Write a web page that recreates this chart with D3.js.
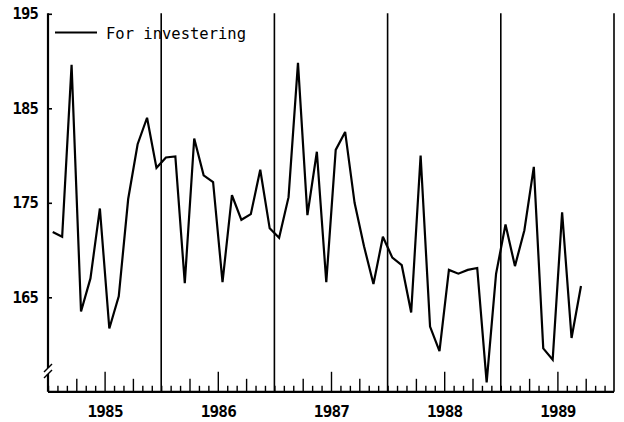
<!DOCTYPE html>
<html>
<head>
<meta charset="utf-8">
<script src="https://cdn.jsdelivr.net/npm/d3@7"></script>
<style>
  html, body { margin: 0; padding: 0; background: #fff; }
  svg { display: block; }
  text { font-family: "DejaVu Sans Mono", "Liberation Mono", monospace; fill: #000; }
</style>
</head>
<body>
<svg id="chart" width="624" height="422"></svg>
<script>
// ---- data (monthly values, Jan..Dec) ----
const seriesName = "For investering";
const years = [1985, 1986, 1987, 1988, 1989];
const v1985 = [171.9, 171.4, 189.6, 163.5, 167.0, 174.4, 161.7, 165.1, 175.4, 181.2, 184.0, 178.7];
const v1986 = [179.8, 179.9, 166.5, 181.8, 177.9, 177.2, 166.6, 175.8, 173.2, 173.8, 178.5, 172.3];
const v1987 = [171.3, 175.6, 189.8, 173.7, 180.4, 166.6, 180.6, 182.5, 175.0, 170.4, 166.4, 171.4];
const v1988 = [169.2, 168.4, 163.4, 180.0, 161.9, 159.3, 167.9, 167.5, 167.9, 168.1, 156.0, 167.5];
const v1989 = [172.7, 168.3, 172.1, 178.8, 159.6, 158.4, 174.0, 160.7, 166.2];
const yTicks = [165, 175, 185, 195];
const yearLabels = ["1985", "1986", "1987", "1988", "1989"];
const yDomain = [155, 195];
const xDomain = [1985, 1990];

const yearly = [v1985, v1986, v1987, v1988, v1989];
const data = [];
yearly.forEach((arr, yi) => arr.forEach((v, m) => data.push({ t: years[yi] + (m + 0.5) / 12, v })));

const svg = d3.select("#chart");
svg.append("rect").attr("width", 624).attr("height", 422).attr("fill", "#fff");

const x = d3.scaleLinear().domain(xDomain).range([48, 614]);
const y = d3.scaleLinear().domain(yDomain).range([391.8, 13.8]);

// year separator lines
const yearBounds = d3.range(xDomain[0] + 1, xDomain[1] + 1);
svg.append("g").selectAll("line").data(yearBounds).join("line")
  .attr("x1", d => x(d)).attr("x2", d => x(d))
  .attr("y1", y(yDomain[1]) - 0.5).attr("y2", y(yDomain[0]))
  .attr("stroke", "#000").attr("stroke-width", 1.6);

// bottom axis: monthly ticks pointing up
const monthTicks = d3.range(0, 60).map(k => xDomain[0] + k / 12);
const xAxis = svg.append("g").attr("transform", `translate(0,${y(yDomain[0])})`)
  .call(d3.axisBottom(x).tickValues(monthTicks).tickFormat("").tickSize(-6).tickSizeOuter(0));
xAxis.select(".domain").attr("stroke-width", 2.2).attr("d", `M${x(xDomain[0])},0H${x(xDomain[1])}`);
xAxis.selectAll(".tick line")
  .attr("stroke-width", 1.4)
  .attr("y2", (d, i) => { const m = Math.round((d - Math.floor(d + 1e-9)) * 12); return m === 6 ? -20 : (m === 3 || m === 9) ? -13 : -6; });

// year labels
const xLab = svg.append("g").attr("transform", `translate(0,${y(yDomain[0])})`)
  .call(d3.axisBottom(x).tickValues(years.map(d => d + 0.5)).tickFormat((d, i) => yearLabels[i]).tickSize(0).tickPadding(14));
xLab.select(".domain").remove();
xLab.selectAll("text").style("font-family", "'DejaVu Sans Mono', monospace").attr("font-size", 16).attr("font-weight", "bold").attr("letter-spacing", -0.8);

// left axis
const yAxis = svg.append("g").attr("transform", `translate(${x(xDomain[0])},0)`)
  .call(d3.axisLeft(y).tickValues(yTicks).tickSize(-4).tickPadding(10));
yAxis.select(".domain").attr("stroke-width", 2.2).attr("d", `M0,${y(yDomain[1]) - 0.5}V${y(yDomain[0])}`);
yAxis.selectAll(".tick line").attr("stroke-width", 1.6);
yAxis.selectAll("text").style("font-family", "'DejaVu Sans Mono', monospace").attr("font-size", 15.5).attr("font-weight", "bold").attr("letter-spacing", -0.8);

// axis break marks
const bx = x(xDomain[0]);
const by = y(157.2);
svg.append("rect").attr("x", bx - 2).attr("y", by - 3).attr("width", 4).attr("height", 6).attr("fill", "#fff");
svg.append("line").attr("x1", bx - 4).attr("y1", by + 1).attr("x2", bx + 4).attr("y2", by - 7).attr("stroke", "#000").attr("stroke-width", 1.5);
svg.append("line").attr("x1", bx - 4).attr("y1", by + 7).attr("x2", bx + 4).attr("y2", by - 1).attr("stroke", "#000").attr("stroke-width", 1.5);

// data line
const line = d3.line().x(d => x(d.t)).y(d => y(d.v));
svg.append("path").datum(data).attr("d", line)
  .attr("fill", "none").attr("stroke", "#000").attr("stroke-width", 2.2).attr("stroke-linejoin", "miter").attr("stroke-miterlimit", 3);

// legend
svg.append("line").attr("x1", 55).attr("x2", 97).attr("y1", 32.5).attr("y2", 32.5).attr("stroke", "#000").attr("stroke-width", 2);
svg.append("text").attr("x", 106).attr("y", 38.5).attr("font-size", 15.5).text(seriesName);
</script>
</body>
</html>
